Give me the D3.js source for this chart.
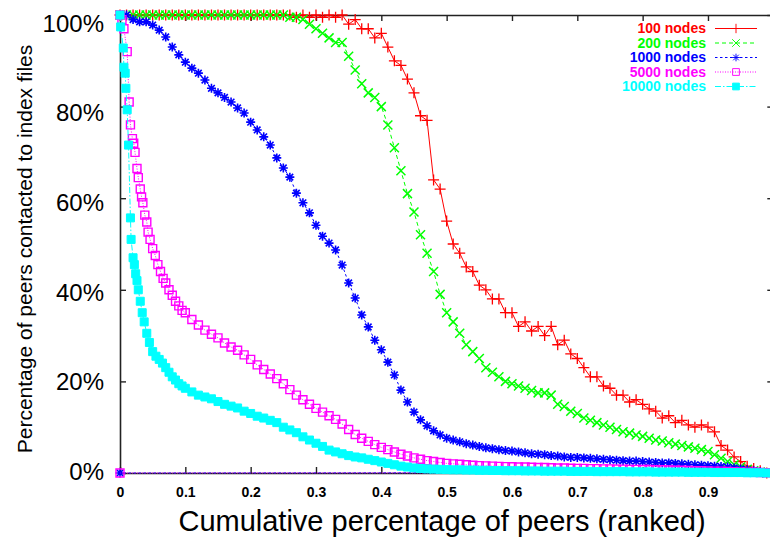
<!DOCTYPE html>
<html><head><meta charset="utf-8">
<script src="https://cdn.jsdelivr.net/npm/d3@7"></script>
<style>html,body{margin:0;padding:0;background:#fff;overflow:hidden}
text{font-family:"Liberation Sans",Arial,Helvetica,sans-serif}</style>
</head><body><svg id="chart" width="770" height="538"></svg>
<script>
// ---------------- data ----------------
const seriesNames  = ["100 nodes","200 nodes","1000 nodes","5000 nodes","10000 nodes"];
const seriesColors = ["#ff0000","#00ff00","#0000ff","#ff00ff","#00ffff"];

// ranked position (fraction of peers) for the 100-step series
const rankGrid = d3.range(100).map(i => i / 100);

const red100 = [
 100,100,100,100,100,100,100,100,100,100,
 100,100,100,100,100,100,100,100,100,100,
 100,100,100,100,100,100,100,99.5,100,99.5,
 100,99.5,100,99.5,100,98,99,97,97,95,
 96,93,90,89,86,83,78,77,64,62,
 55,50,48,45,44,41,40,38,38,35,
 35,32,33,31,32,30,32,28,29,26,
 25,23,21,21,19,18.5,17,17,15.5,16,
 15,14,13.5,12,12.5,11,11.5,10.5,10,10.5,
 10,9,6,5,3.5,2.5,1.5,1,0.5,0
];
const green200 = [
 100,100,100,100,100,100,100,100,100,100,
 100,100,100,100,100,100,100,100,100,100,
 100,100,100,100,100,100,99.5,99.5,99,98,
 97,96,95,94,94,91,88,85,83,82,
 80,76,71,66,61,57,52,48,44,39,
 35,33,30.5,28,26.5,25,23,22,21,20,
 19.5,19,18.5,18,17.5,17.5,17,15,14.5,13.5,
 13,12,11.5,11,10.5,10,9.5,9,8.7,8.3,
 8,7.6,7.2,7,6.6,6.3,6,5.7,5.4,5.1,
 4.7,4,3.2,2.5,1.8,1.3,0.8,0.5,0.2,0
];
const blue1000 = [
 100,100,99,98.5,98.5,97.8,96.7,95.2,93,91.3,
 89.7,88.4,87.3,85.8,84,83,82,81,79.7,78.6,
 76.6,74.9,73.4,71.6,68.8,66.6,64.6,61.1,59,56.8,
 54.1,51.7,50.2,48.7,45.4,41.5,38.2,34.5,31.9,29,
 26.9,24.2,21.4,18.1,15.5,13.3,11.6,10.3,9.2,8.3,
 7.6,7.2,6.8,6.4,6.1,5.8,5.5,5.3,5.1,4.9,
 4.8,4.6,4.4,4.2,4.1,4.0,3.8,3.7,3.5,3.4,
 3.4,3.3,3.2,3.1,3.0,2.9,2.8,2.7,2.6,2.6,
 2.5,2.4,2.3,2.2,2.2,2.1,2.0,1.9,1.8,1.7,
 1.6,1.5,1.4,1.3,1.1,0.9,0.7,0.5,0.3,0.1
];
const magentaX = [
 0,0.003,0.006,0.011,0.014,0.016,0.019,0.021,0.023,0.026,
 0.028,0.031,0.033,0.035,0.038,0.041,0.043,0.046,0.05,0.054,
 0.058,0.062,0.066,0.07,0.075,0.08,0.085,0.09,0.095,0.10,
 0.11,0.12,0.13,0.14,0.15,0.16,0.17,0.18,0.19,0.20,
 0.21,0.22,0.23,0.24,0.25,0.26,0.27,0.28,0.29,0.30,
 0.31,0.32,0.33,0.34,0.35,0.36,0.37,0.38,0.39,0.40,
 0.41,0.42,0.43,0.44,0.45,0.46,0.47,0.48,0.49,0.50,
 0.51,0.52,0.53,0.54,0.55,0.56,0.57,0.58,0.59,0.60,
 0.61,0.62,0.63,0.64,0.65,0.66,0.67,0.68,0.69,0.70,
 0.71,0.72,0.73,0.74,0.75,0.76,0.77,0.78,0.79,0.80,
 0.81,0.82,0.83,0.84,0.85,0.86,0.87,0.88,0.89,0.90,
 0.91,0.92,0.93,0.94,0.95,0.96,0.97,0.98,0.99,0
];
const magenta5000 = [
 100,99,97,92,81,76,73,72,70,66.5,
 64.5,62,60.3,59,56.3,54.8,52.6,51,49,47.5,
 45.5,44,42.5,41.5,40,38.8,37.5,36.5,35.5,35,
 33.5,32.3,31.2,30.3,29.5,28.4,27.5,26.8,25.8,24.8,
 23.6,22.6,21.6,20.6,19.5,18.2,17,16,15,14.1,
 13.3,12.5,11.7,10.7,9.5,8.4,7.6,6.9,6.2,5.6,
 5.1,4.6,4.1,3.7,3.3,3.0,2.7,2.5,2.3,2.1,
 2.0,1.9,1.8,1.7,1.6,1.55,1.5,1.45,1.4,1.35,
 1.3,1.3,1.25,1.2,1.2,1.15,1.1,1.1,1.05,1.0,
 1.0,0.95,0.95,0.9,0.9,0.85,0.85,0.8,0.8,0.75,
 0.75,0.7,0.7,0.65,0.6,0.6,0.55,0.5,0.5,0.45,
 0.4,0.4,0.35,0.3,0.25,0.2,0.15,0.1,0.05,0
];
const cyanX = [
 0,0.001,0.005,0.006,0.008,0.009,0.011,0.013,0.016,0.017,
 0.02,0.022,0.024,0.026,0.028,0.031,0.034,0.037,0.041,0.045,
 0.05,0.055,0.06,0.065,0.07,0.075,0.08,0.085,0.09,0.095,0.10,
 0.11,0.12,0.13,0.14,0.15,0.16,0.17,0.18,0.19,0.20,
 0.21,0.22,0.23,0.24,0.25,0.26,0.27,0.28,0.29,0.30,
 0.31,0.32,0.33,0.34,0.35,0.36,0.37,0.38,0.39,0.40,
 0.41,0.42,0.43,0.44,0.45,0.46,0.47,0.48,0.49,0.50,
 0.51,0.52,0.53,0.54,0.55,0.56,0.57,0.58,0.59,0.60,
 0.61,0.62,0.63,0.64,0.65,0.66,0.67,0.68,0.69,0.70,
 0.71,0.72,0.73,0.74,0.75,0.76,0.77,0.78,0.79,0.80,
 0.81,0.82,0.83,0.84,0.85,0.86,0.87,0.88,0.89,0.90,
 0.91,0.92,0.93,0.94,0.95,0.96,0.97,0.98,0.99
];
const cyan10000 = [
 100,97.4,92.8,88.6,87.3,84,79.3,71.6,55.7,51,
 47,45.5,43.5,42,40,37.5,35,33,30.5,28.5,
 26.5,25.5,24.8,24,23,22,21,20.3,19.5,19,18.5,
 17.7,17,16.6,16.2,15.6,15,14.6,14.2,13.5,13,
 12.4,12,11.5,11,10,9.4,8.8,7.9,7.2,6.5,
 5.8,5.0,4.6,4.2,3.8,3.5,3.3,3.0,2.7,2.4,
 2.1,1.8,1.5,1.3,1.1,1.0,0.9,0.85,0.8,0.75,
 0.7,0.7,0.65,0.65,0.6,0.6,0.55,0.55,0.5,0.5,
 0.5,0.45,0.45,0.45,0.4,0.4,0.4,0.4,0.35,0.35,
 0.35,0.35,0.3,0.3,0.3,0.3,0.3,0.25,0.25,0.25,
 0.25,0.2,0.2,0.2,0.2,0.2,0.15,0.15,0.15,0.15,
 0.1,0.1,0.1,0.1,0.1,0.05,0.05,0.05,0
];

const xTicks = [0,0.1,0.2,0.3,0.4,0.5,0.6,0.7,0.8,0.9];
const xTickLabels = ["0","0.1","0.2","0.3","0.4","0.5","0.6","0.7","0.8","0.9"];
const yTicks = [0,20,40,60,80,100];
const yTickLabels = ["0%","20%","40%","60%","80%","100%"];
const xTitle = "Cumulative percentage of peers (ranked)";
const yTitle = "Percentage of peers contacted to index files";

// ---------------- build ----------------
const zip = (xs, ys) => ys.map((v, i) => [xs[i], v]);
const series = [
  {pts: zip(rankGrid, red100),        dash: null,        marker: "plus",  sw: 1.3},
  {pts: zip(rankGrid, green200),      dash: "4,3",       marker: "cross", sw: 1.5},
  {pts: zip(rankGrid, blue1000).concat([[0,0]]), dash: "2.5,2.5", marker: "star", sw: 1.6},
  {pts: zip(magentaX, magenta5000),   dash: "1,1.5",     marker: "box",   sw: 1.4},
  {pts: zip(cyanX, cyan10000),        dash: "6,2,1.5,2", marker: "fbox",  sw: 1}
];

const svg = d3.select("#chart");
svg.append("rect").attr("width",770).attr("height",538).attr("fill","#fff");

const L = 120, R = 773.3, T = 15, B = 473;
const x = d3.scaleLinear().domain([0,1]).range([L,R]);
const y = d3.scaleLinear().domain([0,100]).range([B,T]);
const yLab = d3.scaleLinear().domain([0,100]).range([472,23.5]);

const shapes = {
  plus:  "M-5.5,0H5.5M0,-5.5V5.5",
  cross: "M-4.5,-4.5L4.5,4.5M-4.5,4.5L4.5,-4.5",
  star:  "M-4.5,0H4.5M0,-4.5V4.5M-3.3,-3.3L3.3,3.3M-3.3,3.3L3.3,-3.3",
  box:   "M-4,-4H4V4H-4Z",
  fbox:  "M-4,-4H4V4H-4Z"
};

// axes (inward ticks on all four sides)
const ax = svg.append("g");
ax.append("g").attr("transform",`translate(0,${B})`)
  .call(d3.axisBottom(x).tickValues(xTicks).tickSizeInner(-6).tickSizeOuter(0)
        .tickPadding(14).tickFormat((d,i)=>xTickLabels[i]))
  .call(g=>g.selectAll("text").attr("font-size",14).attr("font-weight","bold")
        .attr("font-family",'"Liberation Sans",Arial,sans-serif').attr("fill","#000"));
ax.append("g").attr("transform",`translate(0,${T})`)
  .call(d3.axisTop(x).tickValues(xTicks).tickSizeInner(-6).tickSizeOuter(0).tickFormat(""));
ax.append("g").attr("transform",`translate(${L},0)`)
  .call(d3.axisLeft(y).tickValues(yTicks).tickSizeInner(-6).tickSizeOuter(0)
        .tickPadding(16).tickFormat((d,i)=>yTickLabels[i]))
  .call(g=>g.selectAll("text").attr("font-size",24)
        .attr("font-family",'"Liberation Sans",Arial,sans-serif').attr("fill","#000")
        .attr("y", d => yLab(d) - y(d)));
ax.append("g").attr("transform",`translate(${R},0)`)
  .call(d3.axisRight(y).tickValues(yTicks).tickSizeInner(-6).tickSizeOuter(0).tickFormat(""));
ax.selectAll(".domain").attr("stroke","#222").attr("stroke-width",1.6);
ax.selectAll(".tick line").attr("stroke","#222").attr("stroke-width",1.4);

// series
const line = d3.line().x(d=>x(d[0])).y(d=>y(d[1]));
series.forEach((s, k) => {
  const col = seriesColors[k];
  const g = svg.append("g");
  g.append("path").attr("d", line(s.pts)).attr("fill","none")
   .attr("stroke", col).attr("stroke-width",1)
   .attr("stroke-dasharray", s.dash);
  g.selectAll("path.m").data(s.pts).join("path").attr("class","m")
   .attr("transform", d=>`translate(${x(d[0])},${y(d[1])})`)
   .attr("d", shapes[s.marker])
   .attr("fill", s.marker==="fbox" ? col : "none")
   .attr("stroke", col).attr("stroke-width", s.sw);
});

// legend
const lg = svg.append("g");
seriesNames.forEach((name, k) => {
  const col = seriesColors[k], s = series[k];
  const by = 33 + k*14.5, cy = by - 4.5;
  lg.append("text").attr("x",706).attr("y",by).attr("text-anchor","end")
    .attr("font-size",14).attr("font-weight","bold").attr("fill",col).text(name);
  lg.append("path").attr("d",`M715,${cy}H757`).attr("stroke",col).attr("stroke-width",1)
    .attr("stroke-dasharray", s.dash);
  lg.append("path").attr("transform",`translate(736,${cy}) scale(0.85)`).attr("d",shapes[s.marker])
    .attr("fill", s.marker==="fbox" ? col : "none").attr("stroke",col).attr("stroke-width",1.1);
});

// titles
svg.append("text").attr("x",442).attr("y",531).attr("text-anchor","middle")
  .attr("font-size",29).attr("fill","#000").text(xTitle);
svg.append("text").attr("transform","translate(32,249) rotate(-90)").attr("text-anchor","middle")
  .attr("font-size",21).attr("fill","#000").text(yTitle);
</script></body></html>
